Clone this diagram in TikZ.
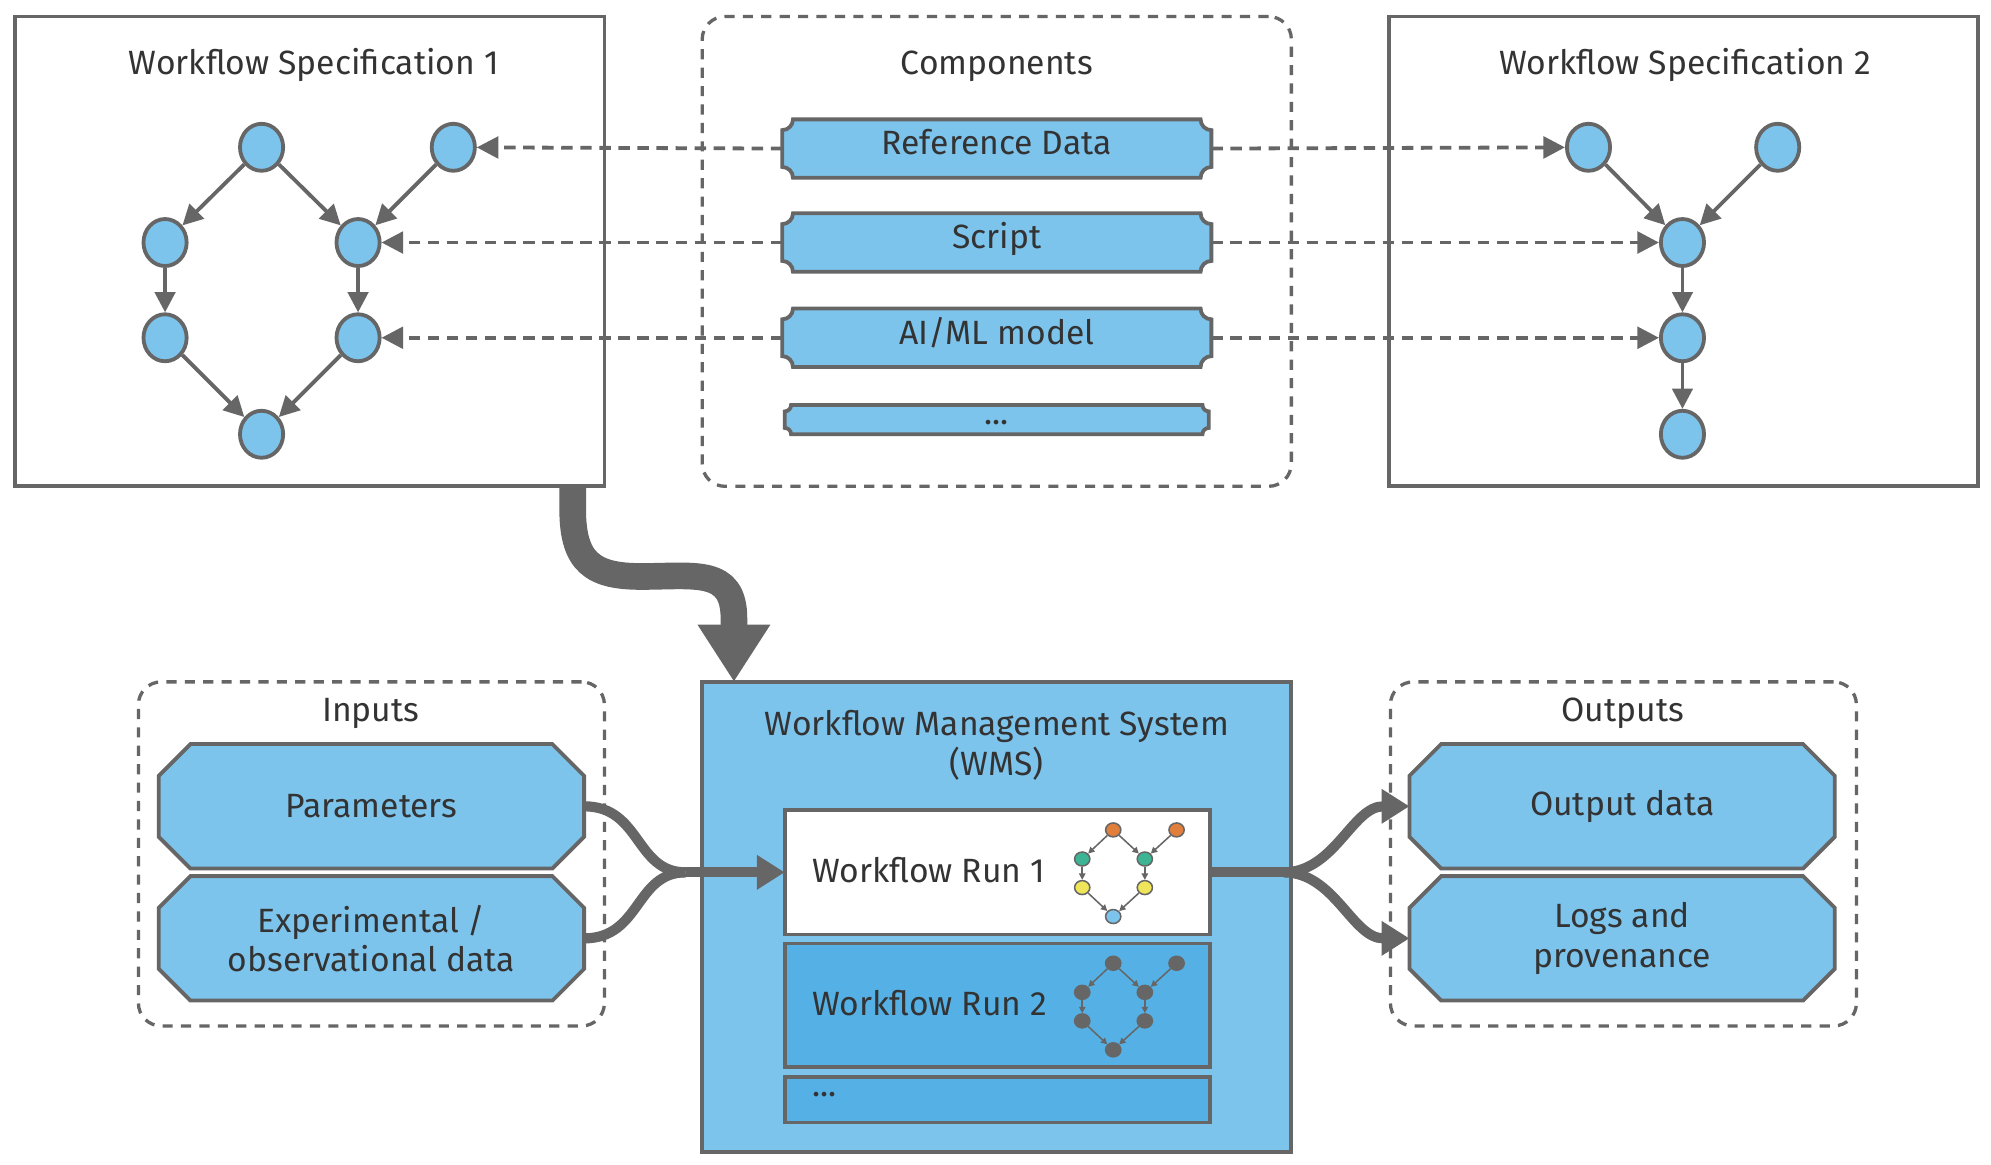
\documentclass[tikz,border=0pt]{standalone}
\usepackage{fontspec}
\setmainfont{Fira Sans}
\usetikzlibrary{arrows.meta,calc,shapes.geometric}
\definecolor{lb}{HTML}{7DC4ED}
\definecolor{db}{HTML}{55B1E5}
\definecolor{gr}{HTML}{666666}
\definecolor{tx}{HTML}{333333}
\definecolor{orn}{HTML}{E07E3C}
\definecolor{grn}{HTML}{3DB595}
\definecolor{ylw}{HTML}{EEE55A}
\pgfdeclarelayer{bg}
\pgfdeclarelayer{mid}
\pgfsetlayers{bg,mid,main}
\newcommand\bannerpath[2]{%
  \draw[bannershape] ([xshift=#2pt]#1.north west) -- ([xshift=-#2pt]#1.north east)
   .. controls ([xshift=-#2pt,yshift={-0.552*#2pt}]#1.north east) and ([xshift={-0.552*#2pt},yshift=-#2pt]#1.north east) .. ([yshift=-#2pt]#1.north east)
   -- ([yshift=#2pt]#1.south east)
   .. controls ([xshift={-0.552*#2pt},yshift=#2pt]#1.south east) and ([xshift=-#2pt,yshift={0.552*#2pt}]#1.south east) .. ([xshift=-#2pt]#1.south east)
   -- ([xshift=#2pt]#1.south west)
   .. controls ([xshift=#2pt,yshift={0.552*#2pt}]#1.south west) and ([xshift={0.552*#2pt},yshift=#2pt]#1.south west) .. ([yshift=#2pt]#1.south west)
   -- ([yshift=-#2pt]#1.north west)
   .. controls ([xshift={0.552*#2pt},yshift=-#2pt]#1.north west) and ([xshift=#2pt,yshift={-0.552*#2pt}]#1.north west) .. cycle;}
\newcommand\octpath[2]{%
  \draw[octshape] ([xshift=#2pt]#1.north west) -- ([xshift=-#2pt]#1.north east) -- ([yshift=-#2pt]#1.north east) -- ([yshift=#2pt]#1.south east) -- ([xshift=-#2pt]#1.south east) -- ([xshift=#2pt]#1.south west) -- ([yshift=#2pt]#1.south west) -- ([yshift=-#2pt]#1.north west) -- cycle;}
\newcommand\minigraph[6]{%
  \node[mnode, fill=#3] (#1a) at (876.7,{653.6+#2}) {};
  \node[mnode, fill=#3] (#1b) at (926.6,{653.6+#2}) {};
  \node[mnode, fill=#4] (#1c) at (852.3,{676.5+#2}) {};
  \node[mnode, fill=#4] (#1d) at (901.6,{676.5+#2}) {};
  \node[mnode, fill=#5] (#1e) at (852.3,{699+#2}) {};
  \node[mnode, fill=#5] (#1f) at (901.6,{699+#2}) {};
  \node[mnode, fill=#6] (#1g) at (876.7,{721.8+#2}) {};
  \draw[medge] (#1a) -- (#1c);
  \draw[medge] (#1a) -- (#1d);
  \draw[medge] (#1b) -- (#1d);
  \draw[medge] (#1c) -- (#1e);
  \draw[medge] (#1d) -- (#1f);
  \draw[medge] (#1e) -- (#1g);
  \draw[medge] (#1f) -- (#1g);}
\tikzset{
  every node/.style={text=tx, font=\fontsize{26.5}{31}\selectfont},
  txt/.style={text height=17.5pt, text depth=7.5pt, inner sep=0pt},
  box/.style={draw=gr, line width=3pt, minimum width=464pt, minimum height=370pt, inner sep=0pt, outer sep=0pt},
  dbox/.style={draw=gr, line width=2.6pt, dash pattern=on 8pt off 6.5pt, rounded corners=18pt, inner sep=0pt, outer sep=0pt},
  gnode/.style={ellipse, draw=gr, fill=lb, line width=3pt, minimum width=34pt, minimum height=37pt, inner sep=0pt},
  gedge/.style={draw=gr, line width=3pt, -{Triangle[length=16pt,width=16pt]}},
  dotarrow/.style={draw=gr, line width=3pt, dash pattern=on 9pt off 6pt, -{Triangle[length=17pt,width=17pt]}},
  btext/.style={txt, minimum width=338pt, minimum height=46pt, outer sep=0pt},
  bannershape/.style={draw=gr, fill=lb, line width=3pt},
  octtext/.style={minimum width=335pt, minimum height=98pt, inner sep=0pt, outer sep=0pt, align=center},
  octshape/.style={draw=gr, fill=lb, line width=3pt, line join=miter},
  runbox/.style={draw=gr, line width=3pt, minimum width=335pt, inner sep=0pt, outer sep=0pt},
  thick flow/.style={draw=gr, line width=8pt},
  flow/.style={draw=gr, line width=8pt, -{Triangle[length=22pt,width=26pt]}},
  bigflow/.style={draw=gr, line width=21pt, -{Triangle[length=45pt,width=54pt]}},
  mnode/.style={ellipse, draw=gr, line width=1.2pt, minimum width=12pt, minimum height=11pt, inner sep=0pt},
  medge/.style={draw=gr, line width=1.2pt, -{Triangle[length=5pt,width=5pt]}},
}
\begin{document}
\begin{tikzpicture}[x=1pt,y=-1pt]
\begin{pgfonlayer}{bg}
\fill[white] (0,0) rectangle (1568,917);
\end{pgfonlayer}
\useasboundingbox (0,0) rectangle (1568,917);

% ---------- Workflow Specification 1 ----------
\node[box] (spec1) at (244,198) {};
\node[txt] (spec1t) at (247,54) {Workflow Specification 1};
\node[gnode] (a1) at (206,116) {};
\node[gnode] (b1) at (357,116) {};
\node[gnode] (c1) at (130,191) {};
\node[gnode] (d1) at (282,191) {};
\node[gnode] (e1) at (130,266) {};
\node[gnode] (f1) at (282,266) {};
\node[gnode] (g1) at (206,342) {};
\draw[gedge] (a1) -- (c1);
\draw[gedge] (a1) -- (d1);
\draw[gedge] (b1) -- (d1);
\draw[gedge] (c1) -- (e1);
\draw[gedge] (d1) -- (f1);
\draw[gedge] (e1) -- (g1);
\draw[gedge] (f1) -- (g1);

% ---------- Workflow Specification 2 ----------
\node[box] (spec2) at (1326,198) {};
\node[txt] (spec2t) at (1327,54) {Workflow Specification 2};
\node[gnode] (h2) at (1251,116) {};
\node[gnode] (i2) at (1400,116) {};
\node[gnode] (j2) at (1325,191) {};
\node[gnode] (k2) at (1325,266) {};
\node[gnode] (l2) at (1325,342) {};
\draw[gedge] (h2) -- (j2);
\draw[gedge] (i2) -- (j2);
\draw[gedge] (j2) -- (k2);
\draw[gedge] (k2) -- (l2);

% ---------- Components ----------
\node[dbox, minimum width=464pt, minimum height=370pt] (comp) at (785,198) {};
\node[txt] (compt) at (785,54) {Components};
\node[btext] (ref) at (785,117) {Reference Data};
\node[btext] (scr) at (785,191) {Script};
\node[btext] (ai) at (785,266) {AI/ML model};
\node[btext, minimum width=334pt, minimum height=23pt, text height=8pt, text depth=0pt] (more) at (785,330.5) {...};
\begin{pgfonlayer}{mid}
\bannerpath{ref}{8.5}
\bannerpath{scr}{8.5}
\bannerpath{ai}{8.5}
\bannerpath{more}{5}
\end{pgfonlayer}
\draw[dotarrow] (ref.west) -- (b1);
\draw[dotarrow] (scr.west) -- (d1);
\draw[dotarrow] (ai.west) -- (f1);
\draw[dotarrow] (ref.east) -- (h2);
\draw[dotarrow] (scr.east) -- (j2);
\draw[dotarrow] (ai.east) -- (k2);

% ---------- WMS ----------
\node[draw=gr, fill=lb, line width=3pt, minimum width=464pt, minimum height=370pt, inner sep=0pt, outer sep=0pt] (wms) at (785,722) {};
\node[align=center, inner sep=0pt] (wmst) at (785,587) {Workflow Management System\\(WMS)};
\node[runbox, fill=white, minimum height=98pt] (run1) at (785.5,687) {};
\node[anchor=west] (run1t) at (636,685) {Workflow Run 1};
\node[runbox, fill=db, minimum height=97pt] (run2) at (785.5,791.5) {};
\node[anchor=west] (run2t) at (636,790) {Workflow Run 2};
\node[runbox, fill=db, minimum height=36pt] (run3) at (785.5,866) {};
\node[anchor=west] (run3t) at (636,862) {...};
\minigraph{m1}{0}{orn}{grn}{ylw}{lb}
\minigraph{m2}{105}{gr}{gr}{gr}{gr}

% ---------- big arrow spec1 -> WMS ----------
\coordinate (bigS) at ($(spec1.south east)+(-25,0)$);
\coordinate (bigE) at ($(wms.north west)+(25,0)$);
\draw[bigflow] (bigS) -- ++(0,18) .. controls +(0,42) and +(-38,0) .. (505,454) .. controls +(42,0) and +(0,-40) .. ($(bigE)+(0,-50)$) -- (bigE);

% ---------- Inputs ----------
\node[dbox, minimum width=367pt, minimum height=271pt] (inp) at (292.5,672.5) {};
\node[txt] (inpt) at (292,563) {Inputs};
\node[octtext] (par) at (292.5,635) {Parameters};
\node[octtext] (exp) at (292.5,739) {Experimental /\\observational data};

% ---------- Outputs ----------
\node[dbox, minimum width=367pt, minimum height=271pt] (outp) at (1278.5,672.5) {};
\node[txt] (outpt) at (1278,563) {Outputs};
\node[octtext] (od) at (1277.5,635) {Output data};
\node[octtext] (logs) at (1277.5,739) {Logs and\\provenance};
\begin{pgfonlayer}{mid}
\octpath{par}{25}
\octpath{exp}{25}
\octpath{od}{25}
\octpath{logs}{25}
\end{pgfonlayer}

% ---------- flows ----------
\coordinate (join) at ($(run1.west)+(-78,0)$);
\draw[thick flow] (par.east) .. controls +(45,0) and +(-40,0) .. (join);
\draw[thick flow] (exp.east) .. controls +(45,0) and +(-40,0) .. (join);
\draw[flow] (join) -- (run1.west);
\coordinate (split) at ($(run1.east)+(58,0)$);
\draw[thick flow] (run1.east) -- (split);
\draw[flow] (split) .. controls +(40,0) and +(-45,0) .. (od.west);
\draw[flow] (split) .. controls +(40,0) and +(-45,0) .. (logs.west);
\end{tikzpicture}
\end{document}
